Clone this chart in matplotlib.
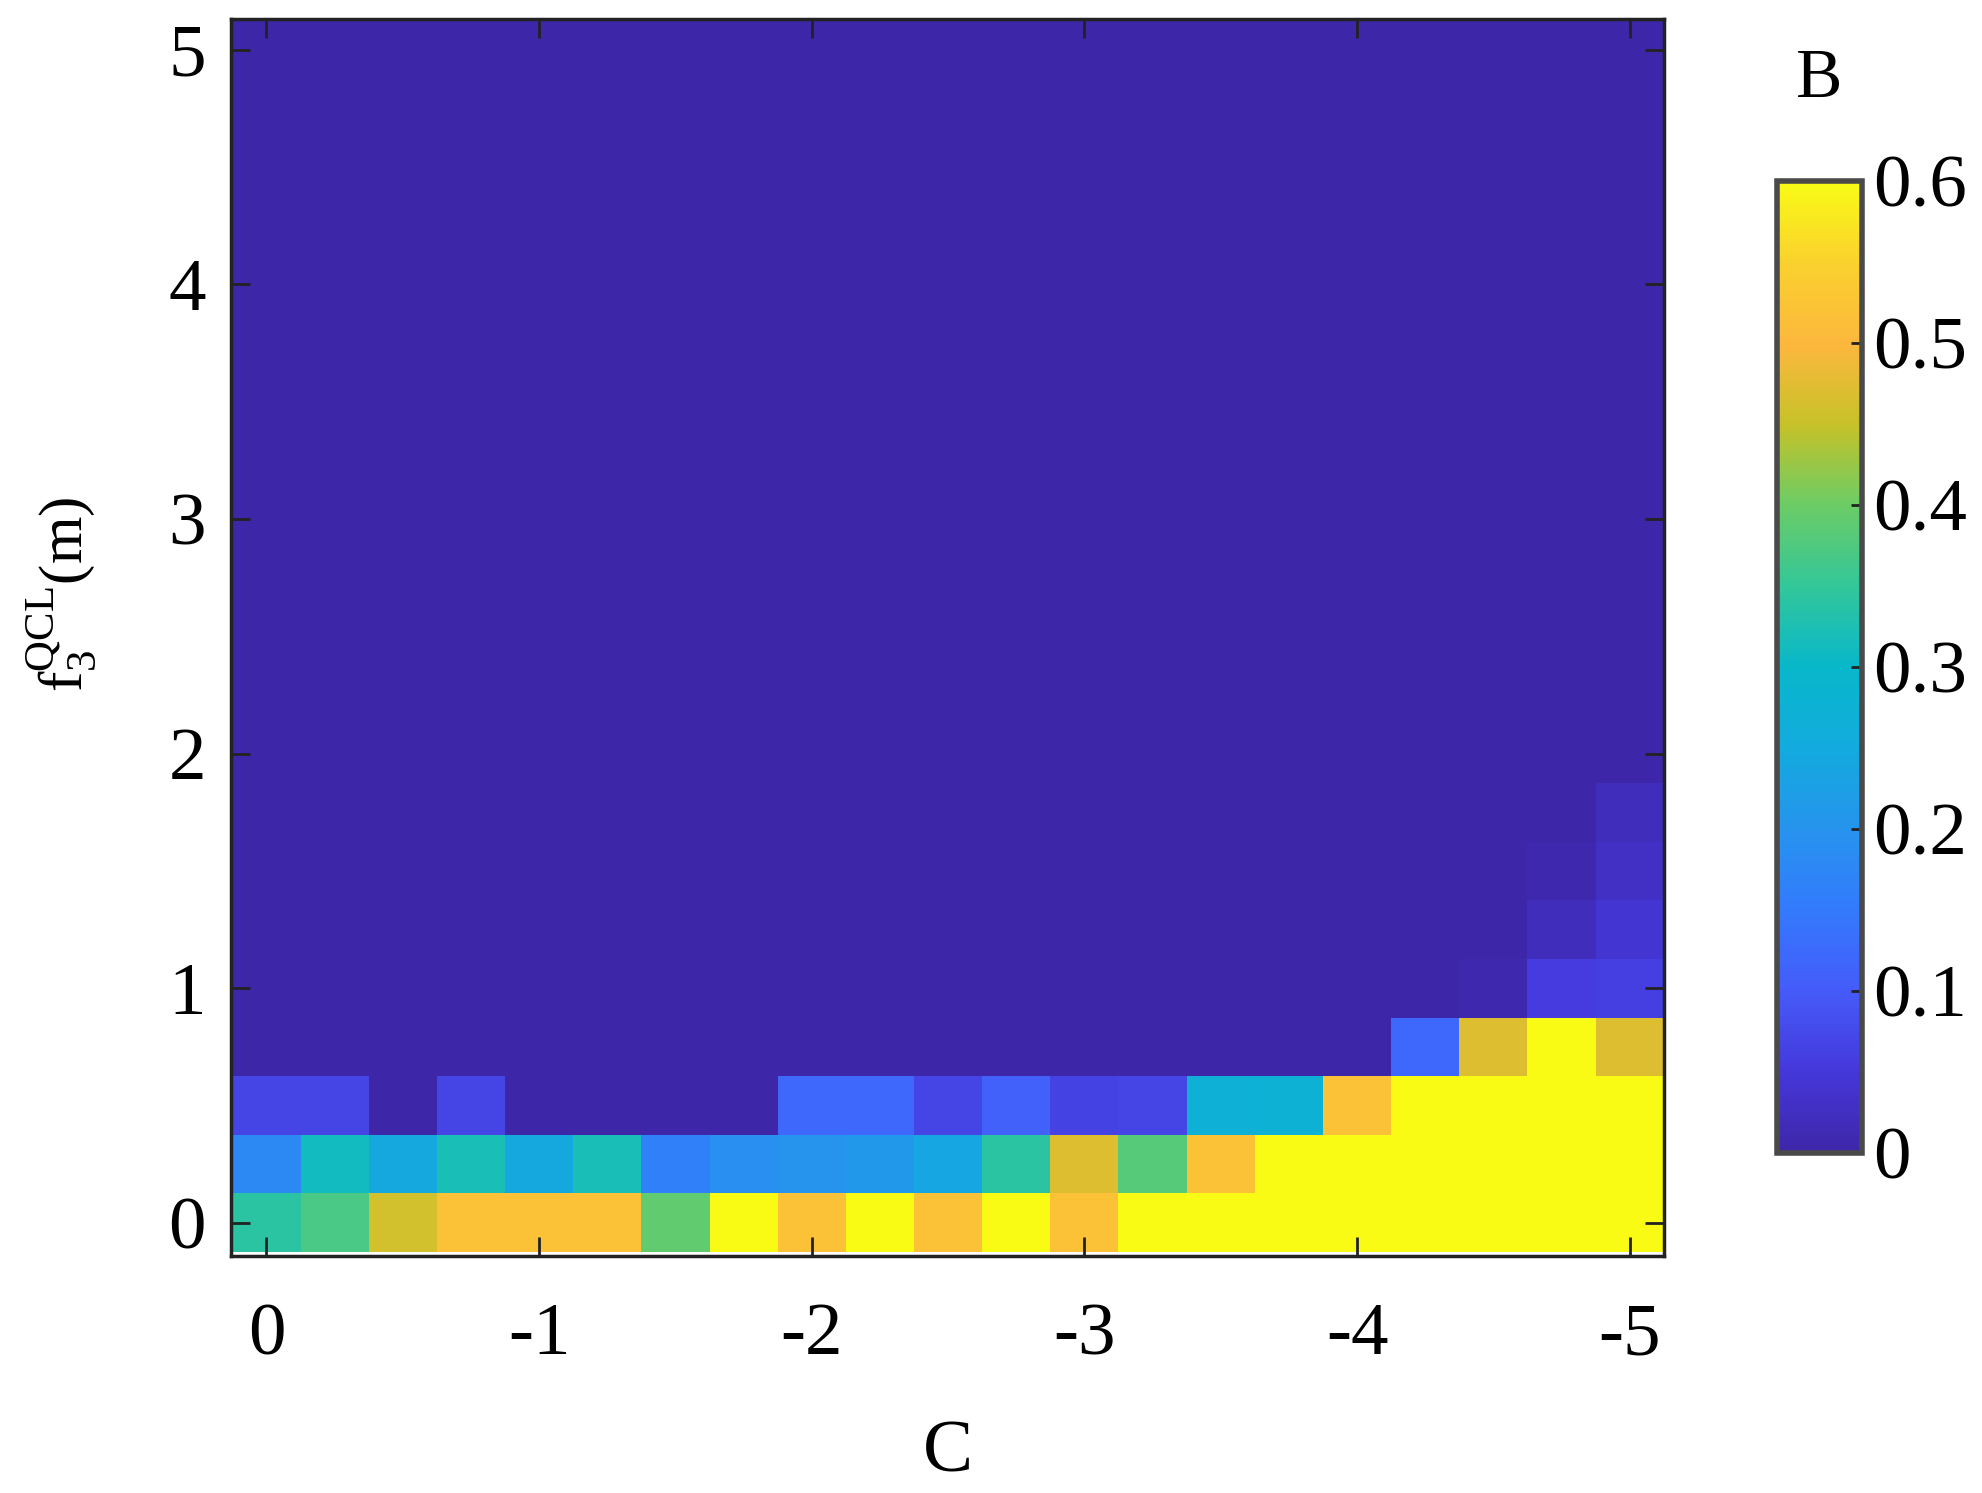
import matplotlib
matplotlib.use("Agg")
import matplotlib.pyplot as plt
from matplotlib.colors import LinearSegmentedColormap

# x positions (C) and y positions (f3 QCL, m) of the cell centres
c_vals = [0, -0.25, -0.5, -0.75, -1.0, -1.25, -1.5, -1.75, -2.0, -2.25, -2.5,
          -2.75, -3.0, -3.25, -3.5, -3.75, -4.0, -4.25, -4.5, -4.75, -5.0]
f_vals = [0, 0.25, 0.5, 0.75, 1.0, 1.25, 1.5, 1.75, 2.0, 2.25, 2.5,
          2.75, 3.0, 3.25, 3.5, 3.75, 4.0, 4.25, 4.5, 4.75, 5.0]

# B values, one row per f value (bottom row first), columns follow c_vals
B_grid = [
    [0.34, 0.37, 0.46, 0.52, 0.52, 0.52, 0.39, 0.60, 0.52, 0.60, 0.52, 0.60, 0.52, 0.60, 0.60, 0.60, 0.60, 0.60, 0.60, 0.60, 0.60],
    [0.18, 0.31, 0.245, 0.32, 0.245, 0.32, 0.16, 0.19, 0.20, 0.21, 0.24, 0.34, 0.47, 0.38, 0.52, 0.60, 0.60, 0.60, 0.60, 0.60, 0.60],
    [0.07, 0.07, 0, 0.07, 0, 0, 0, 0, 0.12, 0.12, 0.07, 0.11, 0.065, 0.07, 0.27, 0.275, 0.52, 0.60, 0.60, 0.60, 0.60],
    [0, 0, 0, 0, 0, 0, 0, 0, 0, 0, 0, 0, 0, 0, 0, 0, 0, 0.12, 0.47, 0.60, 0.47],
    [0, 0, 0, 0, 0, 0, 0, 0, 0, 0, 0, 0, 0, 0, 0, 0, 0, 0, 0.005, 0.055, 0.06],
    [0, 0, 0, 0, 0, 0, 0, 0, 0, 0, 0, 0, 0, 0, 0, 0, 0, 0, 0, 0.02, 0.04],
    [0, 0, 0, 0, 0, 0, 0, 0, 0, 0, 0, 0, 0, 0, 0, 0, 0, 0, 0, 0.005, 0.03],
    [0, 0, 0, 0, 0, 0, 0, 0, 0, 0, 0, 0, 0, 0, 0, 0, 0, 0, 0, 0, 0.02],
    [0, 0, 0, 0, 0, 0, 0, 0, 0, 0, 0, 0, 0, 0, 0, 0, 0, 0, 0, 0, 0],
    [0, 0, 0, 0, 0, 0, 0, 0, 0, 0, 0, 0, 0, 0, 0, 0, 0, 0, 0, 0, 0],
    [0, 0, 0, 0, 0, 0, 0, 0, 0, 0, 0, 0, 0, 0, 0, 0, 0, 0, 0, 0, 0],
    [0, 0, 0, 0, 0, 0, 0, 0, 0, 0, 0, 0, 0, 0, 0, 0, 0, 0, 0, 0, 0],
    [0, 0, 0, 0, 0, 0, 0, 0, 0, 0, 0, 0, 0, 0, 0, 0, 0, 0, 0, 0, 0],
    [0, 0, 0, 0, 0, 0, 0, 0, 0, 0, 0, 0, 0, 0, 0, 0, 0, 0, 0, 0, 0],
    [0, 0, 0, 0, 0, 0, 0, 0, 0, 0, 0, 0, 0, 0, 0, 0, 0, 0, 0, 0, 0],
    [0, 0, 0, 0, 0, 0, 0, 0, 0, 0, 0, 0, 0, 0, 0, 0, 0, 0, 0, 0, 0],
    [0, 0, 0, 0, 0, 0, 0, 0, 0, 0, 0, 0, 0, 0, 0, 0, 0, 0, 0, 0, 0],
    [0, 0, 0, 0, 0, 0, 0, 0, 0, 0, 0, 0, 0, 0, 0, 0, 0, 0, 0, 0, 0],
    [0, 0, 0, 0, 0, 0, 0, 0, 0, 0, 0, 0, 0, 0, 0, 0, 0, 0, 0, 0, 0],
    [0, 0, 0, 0, 0, 0, 0, 0, 0, 0, 0, 0, 0, 0, 0, 0, 0, 0, 0, 0, 0],
    [0, 0, 0, 0, 0, 0, 0, 0, 0, 0, 0, 0, 0, 0, 0, 0, 0, 0, 0, 0, 0],
]

x_ticks = [0, -1, -2, -3, -4, -5]
y_ticks = [0, 1, 2, 3, 4, 5]
cbar_ticks = [0, 0.1, 0.2, 0.3, 0.4, 0.5, 0.6]
cbar_labels = ["0", "0.1", "0.2", "0.3", "0.4", "0.5", "0.6"]

# parula-like colormap, colours picked from the reference colour bar
parula_pts = [
    (0.2422, 0.1504, 0.6603), (0.27, 0.22, 0.86), (0.27, 0.36, 0.98),
    (0.20, 0.48, 0.99), (0.15, 0.58, 0.93), (0.07, 0.67, 0.87),
    (0.03, 0.72, 0.79), (0.20, 0.78, 0.60), (0.42, 0.80, 0.40),
    (0.78, 0.76, 0.16), (0.99, 0.72, 0.24), (0.98, 0.82, 0.18),
    (0.9769, 0.9839, 0.0805),
]
parula = LinearSegmentedColormap.from_list("parula", parula_pts, N=256)

plt.rcParams.update({
    "font.family": ["Liberation Serif", "DejaVu Serif"],
    "mathtext.fontset": "custom",
    "mathtext.rm": "Liberation Serif",
    "mathtext.it": "Liberation Serif:italic",
    "axes.unicode_minus": False,
})

fig = plt.figure(figsize=(19.83, 14.93), dpi=100)
ax = fig.add_axes([0.1165, 0.159, 0.7225, 0.828])

mesh = ax.pcolormesh(c_vals, f_vals, B_grid, cmap=parula, vmin=0, vmax=0.6,
                     shading="nearest")
ax.set_xlim(0.13, -5.125)
ax.set_ylim(-0.14, 5.13)
ax.set_xticks(x_ticks)
ax.set_yticks(y_ticks)
ax.tick_params(direction="in", length=14, width=2, labelsize=54,
               top=True, right=True, color="#222222")
ax.tick_params(axis="x", pad=34)
ax.tick_params(axis="y", pad=18)
for sp in ax.spines.values():
    sp.set_linewidth(2.5)
    sp.set_color("#222222")

ax.set_xlabel("C", fontsize=54, labelpad=36)
ax.set_ylabel(r"$\mathrm{f}_3^{\mathrm{QCL}}$(m)", fontsize=44)
ax.yaxis.set_label_coords(-0.093, 0.535)

cax = fig.add_axes([0.896, 0.228, 0.043, 0.651])
cbar = fig.colorbar(mesh, cax=cax, ticks=cbar_ticks)
cbar.ax.set_yticklabels(cbar_labels)
cbar.ax.tick_params(direction="in", length=8, width=2, labelsize=54, pad=8,
                    color="#222222")
cbar.outline.set_linewidth(4)
cbar.outline.set_edgecolor("#4a4a4a")
cax.set_title("B", fontsize=50, pad=60)

fig.savefig("out.png", dpi=100)
